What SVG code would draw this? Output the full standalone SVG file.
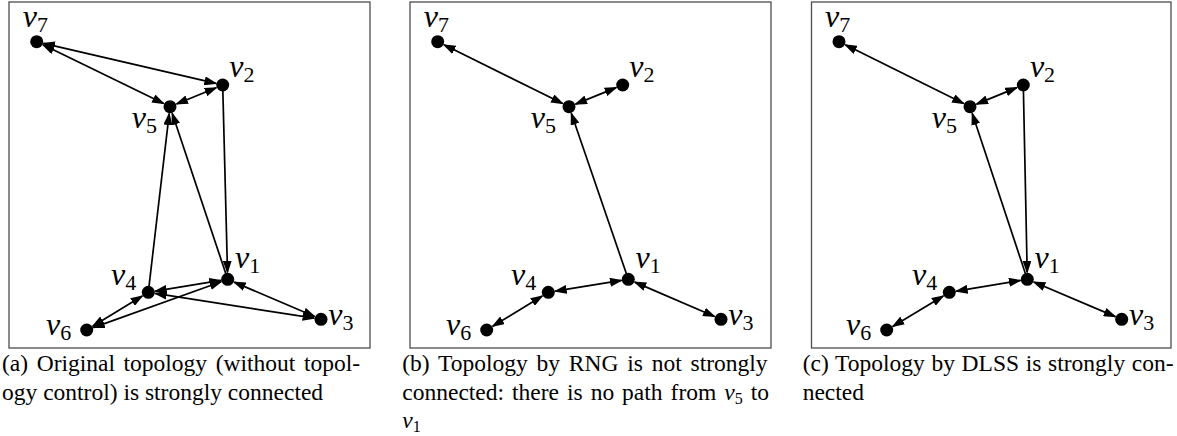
<svg xmlns="http://www.w3.org/2000/svg" width="1177" height="436" viewBox="0 0 1177 436">
<style>
.box{fill:none;stroke:#4d4d4d;stroke-width:1.3}
.edge{fill:none;stroke:#000;stroke-width:1.7}
.bi{marker-start:url(#ah);marker-end:url(#ah)}
.uni{marker-end:url(#ah)}
.dot{fill:#000}
.lbl{font-style:italic;font-size:32px;fill:#000}
.sub{font-style:normal;font-size:22px}
.cap{font-size:23.5px;fill:#000}
.mv{font-style:italic}
.ms{font-size:16px}
</style>
<defs>
<marker id="ah" viewBox="0 0 13 9" refX="11.5" refY="4.5" markerWidth="13" markerHeight="9" markerUnits="userSpaceOnUse" orient="auto-start-reverse">
<path d="M0,0 L13,4.5 L0,9 Z" fill="#000"/>
</marker>
</defs>
<rect fill="#fff" x="0" y="0" width="1177" height="436"/>

<!-- frames -->
<rect class="box" x="9" y="2" width="361" height="346"/>
<rect class="box" x="410" y="2" width="361" height="346"/>
<rect class="box" x="811.5" y="2" width="359.5" height="346"/>

<!-- connectors (a) -->
<g id="edges-a">
<line class="edge bi" x1="43.5" y1="43.3" x2="215.9" y2="83.4"/>
<line class="edge bi" x1="43.0" y1="44.8" x2="163.7" y2="103.6"/>
<line class="edge bi" x1="176.5" y1="104.0" x2="216.2" y2="87.7"/>
<line class="edge uni" x1="222.7" y1="85" x2="227.5" y2="272.3"/>
<line class="edge uni" x1="227.7" y1="279.3" x2="172.2" y2="113.3"/>
<line class="edge uni" x1="148.3" y1="292.3" x2="169.2" y2="113.6"/>
<line class="edge bi" x1="155.2" y1="291.2" x2="220.8" y2="280.4"/>
<line class="edge bi" x1="142.3" y1="296.0" x2="92.7" y2="326.3"/>
<line class="edge bi" x1="93.3" y1="327.6" x2="221.1" y2="281.7"/>
<line class="edge bi" x1="234.1" y1="282.1" x2="314.6" y2="316.5"/>
<line class="edge bi" x1="155.2" y1="293.4" x2="314.1" y2="318.2"/>
</g>

<!-- connectors (b) -->
<g id="edges-b">
<line class="edge bi" x1="444.0" y1="44.8" x2="562.7" y2="103.6"/>
<line class="edge bi" x1="575.5" y1="104.1" x2="616.2" y2="87.6"/>
<line class="edge uni" x1="628.3" y1="279.3" x2="571.3" y2="113.3"/>
<line class="edge bi" x1="555.2" y1="291.2" x2="621.4" y2="280.4"/>
<line class="edge bi" x1="542.3" y1="296.0" x2="492.7" y2="326.3"/>
<line class="edge bi" x1="634.7" y1="282.1" x2="714.6" y2="316.5"/>
</g>

<!-- connectors (c) -->
<g id="edges-c">
<line class="edge bi" x1="845.3" y1="44.8" x2="963.7" y2="103.6"/>
<line class="edge bi" x1="976.5" y1="104.1" x2="1016.8" y2="87.6"/>
<line class="edge uni" x1="1023.3" y1="85" x2="1027.2" y2="272.3"/>
<line class="edge uni" x1="1027.3" y1="279.3" x2="972.2" y2="113.3"/>
<line class="edge bi" x1="956.2" y1="291.2" x2="1020.4" y2="280.4"/>
<line class="edge bi" x1="943.3" y1="295.9" x2="892.7" y2="326.4"/>
<line class="edge bi" x1="1033.8" y1="282.0" x2="1115.3" y2="316.6"/>
</g>

<g font-family="'Liberation Serif', 'Times New Roman', 'DejaVu Serif', serif">
<!-- nodes (a) -->
<g id="a-v1"><circle class="dot" cx="227.7" cy="279.3" r="6.5"/><text class="lbl" x="235" y="268">v<tspan class="sub" dy="5">1</tspan></text></g>
<g id="a-v2"><circle class="dot" cx="222.7" cy="85" r="6.5"/><text class="lbl" x="229.3" y="77">v<tspan class="sub" dy="5">2</tspan></text></g>
<g id="a-v3"><circle class="dot" cx="321" cy="319.3" r="6.5"/><text class="lbl" x="328.3" y="325">v<tspan class="sub" dy="5">3</tspan></text></g>
<g id="a-v4"><circle class="dot" cx="148.3" cy="292.3" r="6.5"/><text class="lbl" x="111" y="285">v<tspan class="sub" dy="5">4</tspan></text></g>
<g id="a-v5"><circle class="dot" cx="170" cy="106.7" r="6.5"/><text class="lbl" x="131.7" y="128">v<tspan class="sub" dy="5">5</tspan></text></g>
<g id="a-v6"><circle class="dot" cx="86.7" cy="330" r="6.5"/><text class="lbl" x="46" y="335">v<tspan class="sub" dy="5">6</tspan></text></g>
<g id="a-v7"><circle class="dot" cx="36.7" cy="41.7" r="6.5"/><text class="lbl" x="22.7" y="26.7">v<tspan class="sub" dy="5">7</tspan></text></g>

<!-- nodes (b) -->
<g id="b-v1"><circle class="dot" cx="628.3" cy="279.3" r="6.5"/><text class="lbl" x="635.6" y="268">v<tspan class="sub" dy="5">1</tspan></text></g>
<g id="b-v2"><circle class="dot" cx="622.7" cy="85" r="6.5"/><text class="lbl" x="629.3" y="77">v<tspan class="sub" dy="5">2</tspan></text></g>
<g id="b-v3"><circle class="dot" cx="721" cy="319.3" r="6.5"/><text class="lbl" x="728.3" y="325">v<tspan class="sub" dy="5">3</tspan></text></g>
<g id="b-v4"><circle class="dot" cx="548.3" cy="292.3" r="6.5"/><text class="lbl" x="511" y="285">v<tspan class="sub" dy="5">4</tspan></text></g>
<g id="b-v5"><circle class="dot" cx="569" cy="106.7" r="6.5"/><text class="lbl" x="530.7" y="128">v<tspan class="sub" dy="5">5</tspan></text></g>
<g id="b-v6"><circle class="dot" cx="486.7" cy="330" r="6.5"/><text class="lbl" x="446" y="335">v<tspan class="sub" dy="5">6</tspan></text></g>
<g id="b-v7"><circle class="dot" cx="437.7" cy="41.7" r="6.5"/><text class="lbl" x="423.7" y="26.7">v<tspan class="sub" dy="5">7</tspan></text></g>

<!-- nodes (c) -->
<g id="c-v1"><circle class="dot" cx="1027.3" cy="279.3" r="6.5"/><text class="lbl" x="1034.6" y="268">v<tspan class="sub" dy="5">1</tspan></text></g>
<g id="c-v2"><circle class="dot" cx="1023.3" cy="85" r="6.5"/><text class="lbl" x="1029.9" y="77">v<tspan class="sub" dy="5">2</tspan></text></g>
<g id="c-v3"><circle class="dot" cx="1121.7" cy="319.3" r="6.5"/><text class="lbl" x="1129" y="325">v<tspan class="sub" dy="5">3</tspan></text></g>
<g id="c-v4"><circle class="dot" cx="949.3" cy="292.3" r="6.5"/><text class="lbl" x="912" y="285">v<tspan class="sub" dy="5">4</tspan></text></g>
<g id="c-v5"><circle class="dot" cx="970" cy="106.7" r="6.5"/><text class="lbl" x="931.7" y="128">v<tspan class="sub" dy="5">5</tspan></text></g>
<g id="c-v6"><circle class="dot" cx="886.7" cy="330" r="6.5"/><text class="lbl" x="846" y="335">v<tspan class="sub" dy="5">6</tspan></text></g>
<g id="c-v7"><circle class="dot" cx="839" cy="41.7" r="6.5"/><text class="lbl" x="825" y="26.7">v<tspan class="sub" dy="5">7</tspan></text></g>

<!-- captions -->
<g id="captions">
<text class="cap" x="2" y="371" word-spacing="2.7">(a) Original topology (without topol-</text>
<text class="cap" x="2" y="400">ogy control) is strongly connected</text>
<text class="cap" x="402.3" y="371" word-spacing="2.9">(b) Topology by RNG is not strongly</text>
<text class="cap" x="402.3" y="400" word-spacing="2.1">connected: there is no path from <tspan class="mv">v</tspan><tspan class="ms" dy="3.5">5</tspan><tspan dy="-3.5"> to</tspan></text>
<text class="cap" x="402.3" y="428"><tspan class="mv">v</tspan><tspan class="ms" dy="3.5">1</tspan></text>
<text class="cap" x="802.7" y="371" word-spacing="0.8">(c) Topology by DLSS is strongly con-</text>
<text class="cap" x="802.7" y="400">nected</text>
</g>
</g>
</svg>
